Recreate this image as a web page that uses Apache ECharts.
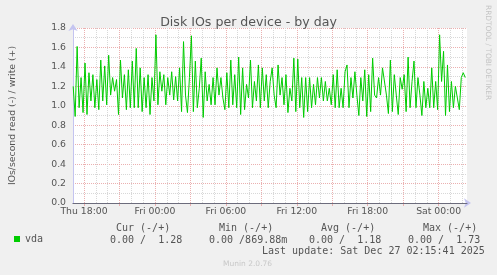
<!DOCTYPE html>
<html><head><meta charset="utf-8">
<script src="https://cdn.jsdelivr.net/npm/echarts@6/dist/echarts.min.js"></script>
<style>html,body{margin:0;padding:0;background:#f0f0f0}#c{width:497px;height:275px}</style>
</head><body><div id="c"></div>
<script>
// ---- data ----
const chartTitle = 'Disk IOs per device - by day';
const yAxisName = 'IOs/second read (-) / write (+)';
const seriesName = 'vda';
// time axis in minutes after Thu 12:00
const startMinute = 305;      // Thu 17:05 (first sample)
const stepMinutes = 10;
const axisMinMinute = 304;
const axisMaxMinute = 2304;
const writeValues = [
 1.20,0.89,1.61,0.98,1.29,0.93,1.44,0.91,1.34,1.05,1.32,0.98,1.27,0.96,1.47,1.05,1.41,1.01,1.52,1.11,
 1.29,1.15,1.27,0.91,1.47,1.08,1.32,0.96,1.37,0.98,1.46,0.98,1.59,0.98,1.39,0.94,1.29,0.98,1.32,0.91,
 1.29,1.05,1.73,1.01,1.35,1.15,1.32,1.01,1.29,1.11,
 1.35,1.06,1.30,1.05,1.39,0.94,1.66,1.11,0.93,1.29,1.72,0.94,1.46,0.98,1.18,1.49,0.88,1.35,1.05,1.22,
 1.01,1.29,1.01,1.39,1.11,1.29,1.08,0.96,1.34,0.98,1.47,1.01,1.32,0.98,1.50,0.91,1.39,0.96,1.22,1.08,
 1.47,0.98,1.25,1.05,1.42,0.98,1.39,1.05,1.32,0.98,
 1.25,1.39,1.11,0.98,1.42,1.11,1.29,1.01,1.32,0.93,1.18,1.05,1.49,0.94,1.48,0.98,1.29,0.88,1.29,0.94,
 1.29,0.98,1.22,1.01,1.29,1.08,1.29,1.05,1.25,1.05,1.18,1.01,1.32,0.98,1.37,0.98,1.18,0.98,1.35,1.42,
 0.98,1.29,1.08,1.35,1.11,0.90,1.29,1.05,1.37,0.89,
 1.32,0.94,1.49,1.11,1.08,1.29,1.11,1.39,1.41,1.11,0.92,1.47,0.94,1.32,1.11,0.91,1.29,1.17,1.32,0.94,
 1.50,0.98,1.25,1.46,0.98,1.29,1.11,0.90,1.25,0.98,1.18,0.98,1.39,0.98,1.25,0.96,1.73,1.25,1.56,0.90,
 1.42,0.94,1.25,0.98,1.20,1.08,0.96,1.29,1.34,1.29
];
const labelMinutes = [360, 720, 1080, 1440, 1800, 2160];
const tickLabels = ['Thu 18:00', 'Fri 00:00', 'Fri 06:00', 'Fri 12:00', 'Fri 18:00', 'Sat 00:00'];
const statHeaders = ['Cur (-/+)', 'Min (-/+)', 'Avg (-/+)', 'Max (-/+)'];
const statRead = ['0.00', '0.00', '0.00', '0.00'];
const statWrite = ['1.28', '869.88m', '1.18', '1.73'];
const lastUpdate = 'Last update: Sat Dec 27 02:15:41 2025';
const versionText = 'Munin 2.0.76';
const sideText = 'RRDTOOL / TOBI OETIKER';

// ---- grid positions (hourly grey, 3-hourly red) ----
const hourMinutes = [];
for (let m = 360; m <= axisMaxMinute; m += 60) hourMinutes.push(m);
const majorMinutes = [];
for (let m = 360; m <= axisMaxMinute; m += 180) majorMinutes.push(m);

const seriesData = writeValues.map((v, i) => [startMinute + i * stepMinutes, v]);

const GREY = '#d8d8d8', RED = '#ebb0b0', AXIS_BLUE = '#c4c4f0', TXT = '#555';
const MONO = '"DejaVu Sans Mono", monospace';
const SANS = '"DejaVu Sans", sans-serif';

const headerX = [116, 219, 321, 423];
const valueX = [110, 209, 309, 408];
const graphics = [];
statHeaders.forEach((h, i) => graphics.push({type:'text', x: headerX[i], y: 228,
  style:{text:h, font:'10px ' + MONO, fill:TXT, align:'left', verticalAlign:'middle'}}));
statRead.forEach((r, i) => graphics.push({type:'text', x: valueX[i], y: 240,
  style:{text: r + ' /' + statWrite[i].padStart(6, ' '), font:'10px ' + MONO, fill:TXT, align:'left', verticalAlign:'middle'}}));
graphics.push({type:'text', x: 262, y: 251.5, style:{text:lastUpdate, font:'10px ' + MONO, fill:TXT, align:'left', verticalAlign:'middle'}});
graphics.push({type:'text', x: 223, y: 264, style:{text:versionText, font:'7.5px ' + SANS, fill:'#c8c8c8', align:'left', verticalAlign:'middle'}});
graphics.push({type:'text', x: 487.5, y: 5, rotation: -Math.PI/2,
  style:{text:sideText, font:'7.4px ' + SANS, fill:'#c4c4c4', align:'left', verticalAlign:'middle'}});

const chart = echarts.init(document.getElementById('c'), null, {renderer:'canvas'});
chart.setOption({
  animation: false,
  backgroundColor: '#f0f0f0',
  title: {text: chartTitle, left: 'center', top: 11,
    textStyle:{fontFamily: SANS, fontSize: 12.6, fontWeight:'normal', color: TXT}},
  legend: {data:[seriesName], left: 14, top: 234, icon:'rect', itemWidth:6, itemHeight:6, padding:0,
    selectedMode:false, textStyle:{fontFamily: MONO, fontSize:10, color: TXT}},
  grid: {left: 67, top: 28, width: 400, height: 175, show:true, backgroundColor:'#ffffff', borderWidth:0},
  xAxis: [
    {type:'value', position:'bottom', offset:0, min: axisMinMinute, max: axisMaxMinute, z:1,
      axisLine:{show:true, lineStyle:{color:AXIS_BLUE, width:1}, symbol:['none','arrow'], symbolSize:[7,7], symbolOffset:[0,4]},
      axisTick:{show:false, customValues: hourMinutes},
      axisLabel:{show:false, customValues: hourMinutes},
      splitLine:{show:true, lineStyle:{color:GREY, width:1, type:[1,1]}}},
    {type:'value', position:'bottom', offset:0, min: axisMinMinute, max: axisMaxMinute, z:2,
      axisLine:{show:false},
      axisTick:{show:true, length:3, customValues: majorMinutes, lineStyle:{color:RED, width:1}},
      axisLabel:{show:false, customValues: majorMinutes},
      splitLine:{show:true, lineStyle:{color:RED, width:1, type:[1,1]}}},
    {type:'value', position:'bottom', offset:0, min: axisMinMinute, max: axisMaxMinute, z:5,
      axisLine:{show:true, lineStyle:{color:'#6c6c7c', width:1}},
      axisTick:{show:false, customValues: labelMinutes},
      axisLabel:{show:true, customValues: labelMinutes, margin:4, color:TXT, fontFamily:SANS, fontSize:9.3,
        formatter: v => tickLabels[labelMinutes.indexOf(Math.round(v))] || ''},
      splitLine:{show:false}}
  ],
  yAxis: {type:'value', min:0, max:1.8, interval:0.2,
    name: yAxisName, nameLocation:'middle', nameGap:56,
    nameTextStyle:{fontFamily:SANS, fontSize:9.3, color:TXT},
    axisLine:{show:true, lineStyle:{color:AXIS_BLUE, width:1}, symbol:['none','arrow'], symbolSize:[7,7], symbolOffset:[0,4]},
    axisTick:{show:false},
    axisLabel:{margin:7, color:TXT, fontFamily:SANS, fontSize:9.3, formatter: v => v.toFixed(1)},
    splitLine:{show:true, lineStyle:{color:RED, width:1, type:[1,1]}},
    minorTick:{show:false, splitNumber:2},
    minorSplitLine:{show:true, lineStyle:{color:GREY, width:1, type:[1,1]}}},
  series: [{name: seriesName, type:'line', xAxisIndex:2, data: seriesData, showSymbol:false,
    lineStyle:{color:'#00cc00', width:1}, itemStyle:{color:'#00cc00'}, z:3, silent:true}],
  graphic: graphics
});
</script></body></html>
